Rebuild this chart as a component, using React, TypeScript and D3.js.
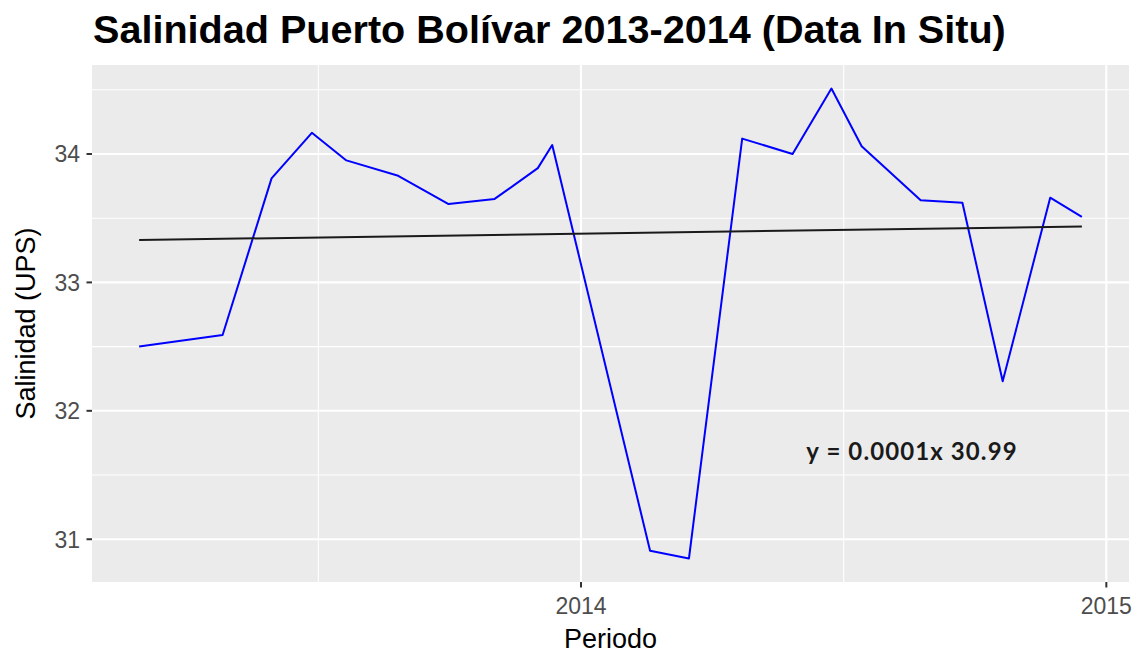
import React from "react";
import * as d3 from "d3";

// ---- Data ----
const dates = [
  "2013-02-28", "2013-04-27", "2013-05-31", "2013-06-28", "2013-07-22",
  "2013-08-27", "2013-10-01", "2013-11-02", "2013-12-02", "2013-12-12",
  "2014-02-18", "2014-03-17", "2014-04-23", "2014-05-28", "2014-06-24",
  "2014-07-15", "2014-08-25", "2014-09-23", "2014-10-21", "2014-11-23",
  "2014-12-15",
];
const salinity = [
  32.5, 32.59, 33.81, 34.165, 33.95,
  33.83, 33.61, 33.65, 33.89, 34.07,
  30.91, 30.85, 34.12, 34.0, 34.51,
  34.06, 33.64, 33.62, 32.23, 33.66,
  33.51,
];
// linear trend evaluated at first and last date
const trendValues = [33.33, 33.435];
const yTicks = [31, 32, 33, 34];
const yMinor = [31.5, 32.5, 33.5, 34.5];
const xTickYears = [2014, 2015];
const xTickLabels = ["2014", "2015"];
const annotationText = "y = 0.0001x 30.99";
const annotationDate = "2014-08-19";
const annotationValue = 31.69;

const titleText = "Salinidad Puerto Bolívar 2013-2014 (Data In Situ)";
const xTitle = "Periodo";
const yTitle = "Salinidad (UPS)";

const W = 1134;
const H = 654;
const panel = { left: 92, right: 1129, top: 65, bottom: 582 };

const parse = d3.utcParse("%Y-%m-%d");

export default function App() {
  const pts = dates.map((d, i) => ({ date: parse(d) as Date, v: salinity[i] }));
  const tExt = d3.extent(pts, (p) => +p.date) as [number, number];
  const vExt = d3.extent(pts, (p) => p.v) as [number, number];
  const tPad = (tExt[1] - tExt[0]) * 0.05;
  const vPad = (vExt[1] - vExt[0]) * 0.05;

  const x = d3
    .scaleUtc()
    .domain([new Date(tExt[0] - tPad), new Date(tExt[1] + tPad)])
    .range([panel.left, panel.right]);
  const y = d3
    .scaleLinear()
    .domain([vExt[0] - vPad, vExt[1] + vPad])
    .range([panel.bottom, panel.top]);

  const line = d3
    .line<{ date: Date; v: number }>()
    .x((p) => x(p.date))
    .y((p) => y(p.v));

  const trendPts = [
    { date: pts[0].date, v: trendValues[0] },
    { date: pts[pts.length - 1].date, v: trendValues[1] },
  ];

  const majorX = xTickYears.map((yr) => new Date(Date.UTC(yr, 0, 1)));
  const minorX = xTickYears.map(
    (yr) => new Date((Date.UTC(yr - 1, 0, 1) + Date.UTC(yr, 0, 1)) / 2)
  );

  const font = "'Liberation Sans', Arial, sans-serif";

  return (
    <svg
      width={W}
      height={H}
      style={{ position: "absolute", left: 0, top: 0, background: "#fff" }}
    >
      <rect
        x={panel.left}
        y={panel.top}
        width={panel.right - panel.left}
        height={panel.bottom - panel.top}
        fill="#EBEBEB"
      />
      {/* minor grid */}
      {yMinor.map((v) => (
        <line key={"ym" + v} x1={panel.left} x2={panel.right} y1={y(v)} y2={y(v)} stroke="#fff" strokeWidth={1.1} />
      ))}
      {minorX.map((d, i) => (
        <line key={"xm" + i} x1={x(d)} x2={x(d)} y1={panel.top} y2={panel.bottom} stroke="#fff" strokeWidth={1.1} />
      ))}
      {/* major grid */}
      {yTicks.map((v) => (
        <line key={"yM" + v} x1={panel.left} x2={panel.right} y1={y(v)} y2={y(v)} stroke="#fff" strokeWidth={2.1} />
      ))}
      {majorX.map((d, i) => (
        <line key={"xM" + i} x1={x(d)} x2={x(d)} y1={panel.top} y2={panel.bottom} stroke="#fff" strokeWidth={2.1} />
      ))}

      {/* data */}
      <path d={line(pts) || ""} fill="none" stroke="#0000FF" strokeWidth={2} strokeLinejoin="round" />
      <path d={line(trendPts) || ""} fill="none" stroke="#1a1a1a" strokeWidth={2} />

      <text
        x={x(parse(annotationDate) as Date)}
        y={y(annotationValue)}
        textAnchor="middle"
        dominantBaseline="central"
        fontFamily="Lato, 'Open Sans', sans-serif"
        fontWeight="bold"
        fontSize={24}
        letterSpacing={1.1}
        fill="#1a1a1a"
      >
        {annotationText}
      </text>

      {/* y axis ticks */}
      {yTicks.map((v) => (
        <g key={"yt" + v}>
          <line x1={panel.left - 5.5} x2={panel.left} y1={y(v)} y2={y(v)} stroke="#333" strokeWidth={2} />
          <text
            x={panel.left - 12}
            y={y(v)}
            dy="0.36em"
            textAnchor="end"
            fontFamily={font}
            fontSize={23}
            fill="#4D4D4D"
          >
            {v}
          </text>
        </g>
      ))}
      {/* x axis ticks */}
      {majorX.map((d, i) => (
        <g key={"xt" + i}>
          <line x1={x(d)} x2={x(d)} y1={panel.bottom} y2={panel.bottom + 5.5} stroke="#333" strokeWidth={2} />
          <text
            x={x(d)}
            y={614}
            textAnchor="middle"
            fontFamily={font}
            fontSize={23}
            fill="#4D4D4D"
          >
            {xTickLabels[i]}
          </text>
        </g>
      ))}

      <text
        x={(panel.left + panel.right) / 2}
        y={648}
        textAnchor="middle"
        fontFamily={font}
        fontSize={27}
        fill="#000"
      >
        {xTitle}
      </text>
      <text
        transform={`translate(35, ${(panel.top + panel.bottom) / 2}) rotate(-90)`}
        textAnchor="middle"
        fontFamily={font}
        fontSize={27}
        fill="#000"
      >
        {yTitle}
      </text>
      <text x={93} y={43} fontFamily={font} fontWeight="bold" fontSize={39.6} fill="#000">
        {titleText}
      </text>
    </svg>
  );
}
